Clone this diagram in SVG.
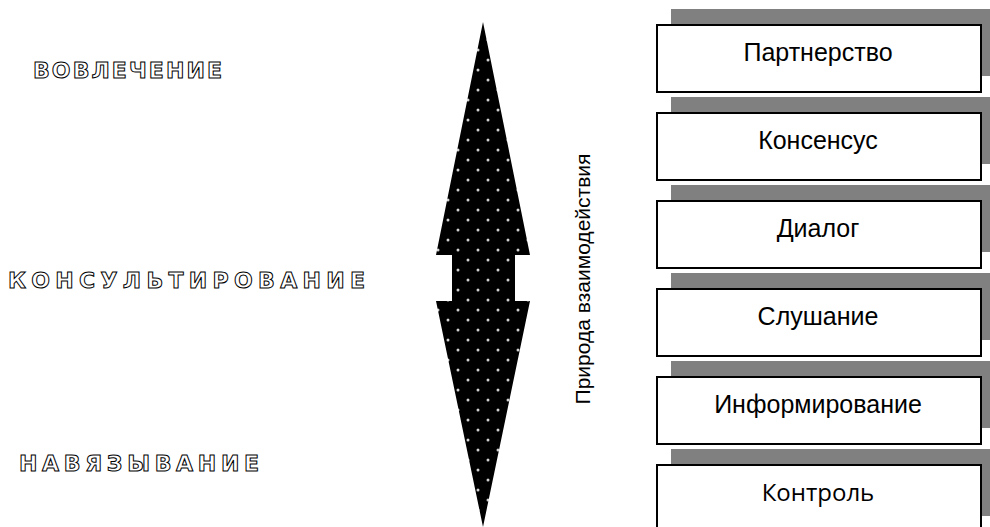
<svg xmlns="http://www.w3.org/2000/svg" width="990" height="527" viewBox="0 0 990 527">
<defs>
<pattern id="dots" patternUnits="userSpaceOnUse" x="446" y="238" width="20" height="20">
<rect width="20" height="20" fill="#000"/>
<circle cx="2" cy="2" r="1.5" fill="#d0d0d0"/>
<circle cx="12" cy="12" r="1.5" fill="#d0d0d0"/>
</pattern>
</defs>
<style>
.shadow{fill:#808080;}
.box{fill:#fff;stroke:#000;stroke-width:2;}
.lbl{font-family:"Liberation Sans",Arial,sans-serif;font-size:25px;fill:#000;text-anchor:middle;}
.outl{font-family:"DejaVu Sans","Liberation Sans",sans-serif;font-size:22px;font-weight:bold;fill:#fff;stroke:#000;stroke-width:1;}
</style>
<rect width="990" height="527" fill="#fff"/>
<g id="levels">
<text class="outl" x="33" y="78" textLength="189" lengthAdjust="spacing">ВОВЛЕЧЕНИЕ</text>
<text class="outl" x="8" y="288" textLength="357" lengthAdjust="spacing">КОНСУЛЬТИРОВАНИЕ</text>
<text class="outl" x="19" y="471" textLength="240" lengthAdjust="spacing">НАВЯЗЫВАНИЕ</text>
</g>
<g id="connectors">
<polygon id="arrow" points="483,22 530,255 515,255 515,301 530,301 483,527 436,301 452,301 452,255 436,255" fill="url(#dots)"/>
</g>
<g id="axis-label">
<text transform="translate(590,279) rotate(-90)" font-family="Liberation Sans, Arial, sans-serif" font-size="21" text-anchor="middle">Природа взаимодействия</text>
</g>
<g id="n1"><rect class="shadow" x="671" y="9" width="325" height="67"/><rect class="box" x="657" y="25" width="324" height="67"/><text class="lbl" x="818" y="61">Партнерство</text></g>
<g id="n2"><rect class="shadow" x="671" y="97" width="325" height="67"/><rect class="box" x="657" y="113" width="324" height="67"/><text class="lbl" x="818" y="149">Консенсус</text></g>
<g id="n3"><rect class="shadow" x="671" y="185" width="325" height="67"/><rect class="box" x="657" y="201" width="324" height="67"/><text class="lbl" x="818" y="237">Диалог</text></g>
<g id="n4"><rect class="shadow" x="671" y="273" width="325" height="67"/><rect class="box" x="657" y="289" width="324" height="67"/><text class="lbl" x="818" y="325">Слушание</text></g>
<g id="n5"><rect class="shadow" x="671" y="361" width="325" height="67"/><rect class="box" x="657" y="377" width="324" height="67"/><text class="lbl" x="818" y="413">Информирование</text></g>
<g id="n6"><rect class="shadow" x="671" y="449" width="325" height="67"/><rect class="box" x="657" y="465" width="324" height="67"/><text class="lbl" x="818" y="501" style="font-family:'Open Sans','Noto Sans',sans-serif;font-size:24px">Контроль</text></g>
</svg>
